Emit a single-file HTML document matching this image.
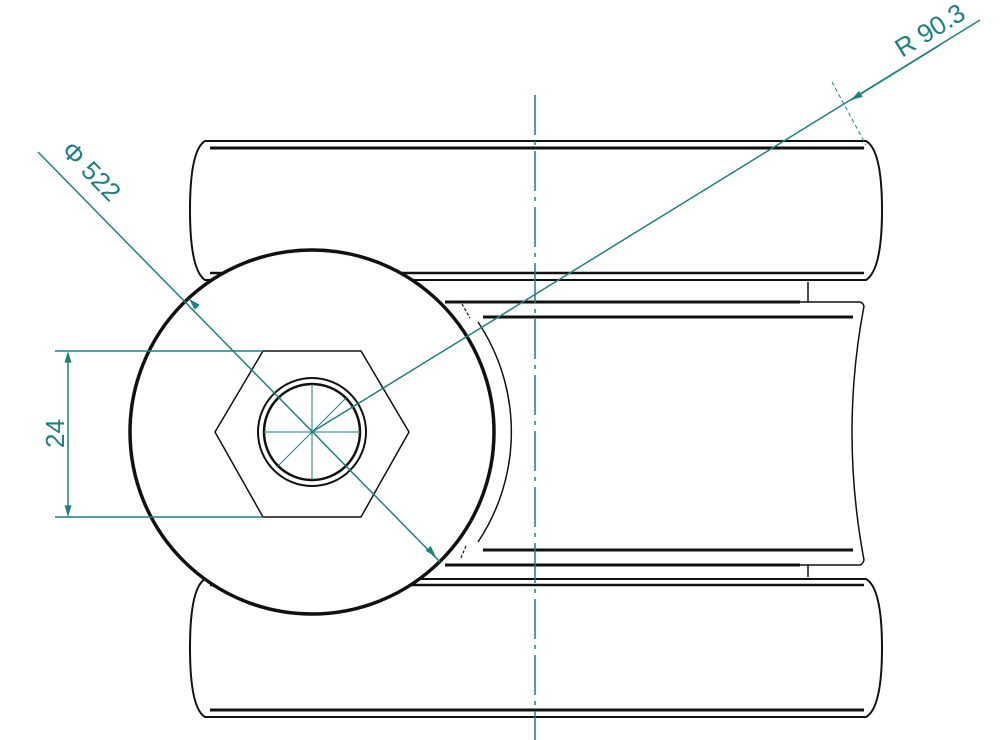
<!DOCTYPE html>
<html><head><style>body{margin:0;background:#fff}svg{display:block}</style></head><body>
<svg width="1000" height="740" viewBox="0 0 1000 740" xmlns="http://www.w3.org/2000/svg">
<defs><marker id="a" viewBox="0 0 10 6" refX="10" refY="3" markerWidth="12" markerHeight="7" orient="auto-start-reverse" markerUnits="userSpaceOnUse"><path d="M0,0L10,3L0,6z" fill="#1e7f80"/></marker></defs>
<g fill="none" stroke="#111" stroke-width="2">
<path d="M205,141 L866,141 Q882,150 882,210 Q882,270 866,280 L205,280 Q190,270 190,210 Q190,150 205,141Z"/>
<line x1="210" y1="148" x2="864" y2="148" stroke-width="3"/>
<line x1="210" y1="273" x2="864" y2="273" stroke-width="2.5"/>
<path d="M205,579 L866,579 Q882,588 882,648 Q882,708 866,717 L205,717 Q190,708 190,648 Q190,588 205,579Z"/>
<line x1="210" y1="585" x2="864" y2="585" stroke-width="2.5"/>
<line x1="210" y1="710" x2="864" y2="710" stroke-width="3"/>
<line x1="808" y1="282" x2="808" y2="302" stroke-width="1.5"/>
<line x1="808" y1="565" x2="808" y2="577" stroke-width="1.5"/>
<path d="M445,302 L860,302 Q863,303 864,306 Q840,432 864,560 Q863,564 860,565 L445,565" stroke-width="1.5"/>
<line x1="445" y1="302" x2="800" y2="302" stroke-width="3"/>
<line x1="445" y1="565" x2="800" y2="565" stroke-width="3"/>
<line x1="483" y1="317" x2="853" y2="317" stroke-width="3"/>
<line x1="483" y1="550" x2="853" y2="550" stroke-width="3"/>
<path d="M478,322 A198,198 0 0 1 478,542" stroke-width="1.5"/>
<path d="M462,304 L470,318 M466,546 L460,560" stroke-width="1.2" stroke-dasharray="3,2"/>
<circle cx="312" cy="432" r="182" stroke-width="3.5" fill="#fff"/>
<polygon points="263,351 361,351 409,432 361,517 263,517 215,432" stroke-width="1.5"/>
<circle cx="312" cy="432" r="54" stroke-width="2"/>
<circle cx="312" cy="432" r="48" stroke-width="2.5"/>
</g>
<g stroke="#1e7f80" stroke-width="1.5" fill="none">
<line x1="535" y1="95" x2="535" y2="740" stroke-dasharray="40,6,4,6"/>
<line x1="264" y1="432" x2="360" y2="432" stroke-width="1"/>
<line x1="312" y1="384" x2="312" y2="480" stroke-width="1"/>
<line x1="278" y1="466" x2="346" y2="398" stroke-width="1"/>
<line x1="312" y1="432" x2="980" y2="20"/>
<line x1="940" y1="45" x2="851" y2="100" marker-end="url(#a)"/>
<line x1="832" y1="82" x2="866" y2="145" stroke-width="1" stroke-dasharray="4,3"/>
<line x1="38" y1="152" x2="440" y2="562"/>
<line x1="260" y1="370" x2="189" y2="299" stroke-width="0" marker-end="url(#a)"/>
<line x1="380" y1="495" x2="436" y2="557" stroke-width="0" marker-end="url(#a)"/>
<line x1="55" y1="351" x2="263" y2="351"/>
<line x1="55" y1="517" x2="263" y2="517"/>
<line x1="68" y1="360" x2="68" y2="508"/>
<line x1="68" y1="400" x2="68" y2="351" stroke-width="0" marker-end="url(#a)"/>
<line x1="68" y1="470" x2="68" y2="517" stroke-width="0" marker-end="url(#a)"/>
</g>
<g fill="#1e7f80" font-family="Liberation Sans, sans-serif" font-size="26">
<text transform="translate(902,58) rotate(-31.7)">R 90.3</text>
<text transform="translate(60,152) rotate(45.6)">Φ 522</text>
<text transform="translate(64,448) rotate(-90)">24</text>
</g>
</svg>
</body></html>
